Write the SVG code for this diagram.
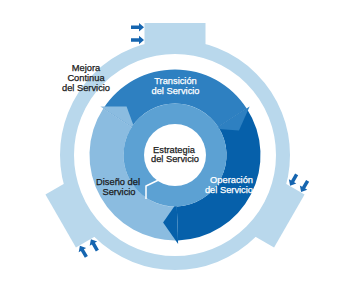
<svg xmlns="http://www.w3.org/2000/svg" width="345" height="303" viewBox="0 0 345 303">
<defs>
<style>
.lbl{font-family:"Liberation Sans",Arial,sans-serif;font-size:9.3px;stroke-width:0.25px}
.dark{fill:#1a1a1a;stroke:#1a1a1a}
.light{fill:#ffffff;stroke:#ffffff}
.ring{fill:#b9d8ec}
.arr{fill:#1565b0}
</style>
<g id="tab">
<rect class="ring" x="-30.5" y="-132" width="61" height="29"/>
<path class="arr" d="M-44 -129.5 L-36 -129.5 L-36 -132 L-31 -127.7 L-36 -123.4 L-36 -126 L-44 -126 Z"/>
<path class="arr" d="M-44 -116.8 L-36 -116.8 L-36 -119.3 L-31 -115 L-36 -110.7 L-36 -113.3 L-44 -113.3 Z"/>
</g>
</defs>
<rect width="345" height="303" fill="#ffffff"/>
<g id="mejora" transform="translate(175,155)">
<circle cx="0" cy="0" r="108" fill="none" stroke="#b9d8ec" stroke-width="14"/>
<use href="#tab"/>
<use href="#tab" transform="rotate(120)"/>
<use href="#tab" transform="rotate(240)"/>
</g>
<g id="transicion">
<path transform="translate(175,155)" fill="#2e80c1" d="M-71.71 -46.57 A85.5 85.5 0 0 1 71.71 -46.57 L43.19 -28.05 A51.5 51.5 0 0 0 -43.19 -28.05 Z"/>
</g>
<g id="operacion">
<path transform="translate(175,155)" fill="#0660aa" d="M71.71 -46.57 A85.5 85.5 0 0 1 2.98 85.45 L1.80 51.47 A51.5 51.5 0 0 0 43.19 -28.05 Z"/>
</g>
<g id="diseno">
<path transform="translate(175,155)" fill="#8bbce0" d="M2.98 85.45 A85.5 85.5 0 0 1 -71.71 -46.57 L-43.19 -28.05 A51.5 51.5 0 0 0 1.80 51.47 Z"/>
</g>
<g id="connectors" transform="translate(175,155)">
<path fill="#8bbce0" d="M-40.26 -26.14 L-74.64 -48.47 L-48.44 -48.44 Z"/>
<path fill="#2e80c1" d="M40.26 -26.14 L74.64 -48.47 L63.95 -24.55 Z"/>
<path fill="#0660aa" d="M1.68 47.97 L3.11 88.95 L-11.89 67.46 Z"/>
</g>
<g id="estrategia">
<circle cx="175" cy="155" r="51.5" fill="#5ca1d3"/>
<circle cx="175" cy="155" r="31" fill="#ffffff"/>
<polyline points="158.5,180 146,186 146,199" fill="none" stroke="#ffffff" stroke-width="1.5"/>
<text class="lbl dark" text-anchor="middle" x="174" y="152.5">Estrategia</text>
<text class="lbl dark" text-anchor="middle" x="175" y="162">del Servicio</text>
</g>
<g id="textos">
<text class="lbl light" text-anchor="middle" x="175.5" y="84">Transición</text>
<text class="lbl light" text-anchor="middle" x="175.5" y="94">del Servicio</text>
<text class="lbl dark" text-anchor="middle" x="86" y="71">Mejora</text>
<text class="lbl dark" text-anchor="middle" x="86" y="81">Continua</text>
<text class="lbl dark" text-anchor="middle" x="86" y="91">del Servicio</text>
<text class="lbl dark" text-anchor="middle" x="118" y="185">Diseño del</text>
<text class="lbl dark" text-anchor="middle" x="119" y="194.5">Servicio</text>
<text class="lbl light" text-anchor="end" x="253" y="183.3">Operación</text>
<text class="lbl light" text-anchor="end" x="253" y="193">del Servicio</text>
</g>
</svg>
